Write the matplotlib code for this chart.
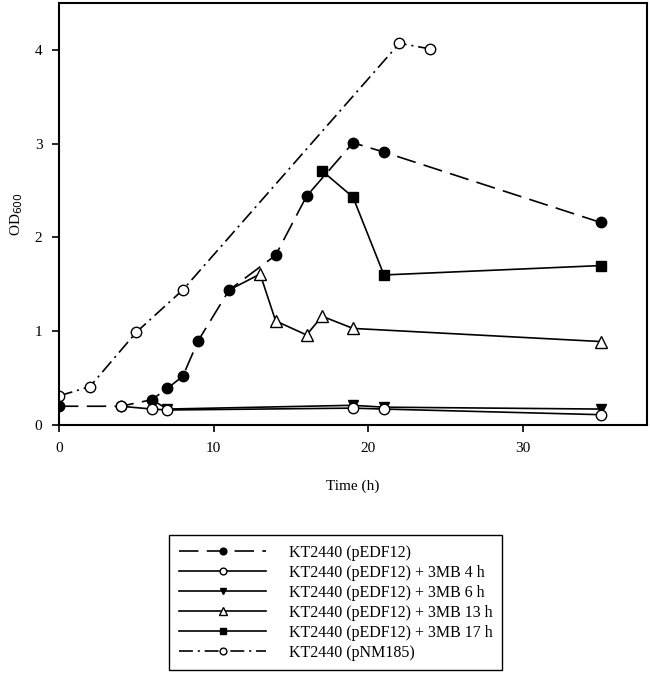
import matplotlib
matplotlib.use("Agg")
import matplotlib.pyplot as plt

plt.rcParams['font.family'] = ['Liberation Serif', 'DejaVu Serif']
plt.rcParams['lines.scale_dashes'] = False

# KT2440 (pEDF12)
t_pedf = [0, 4, 6, 7, 8, 9, 11, 14, 16, 19, 21, 35]
od_pedf = [0.20, 0.20, 0.27, 0.39, 0.52, 0.90, 1.44, 1.81, 2.44, 3.01, 2.91, 2.16]

# + 3MB 4 h
t_4h = [4, 6, 7, 19, 21, 35]
od_4h = [0.20, 0.17, 0.16, 0.18, 0.17, 0.11]

# + 3MB 6 h
t_6h = [6, 7, 19, 21, 35]
od_6h = [0.27, 0.17, 0.21, 0.19, 0.17]

# + 3MB 13 h
t_13h = [11, 13, 14, 16, 17, 19, 35]
od_13h = [1.44, 1.61, 1.11, 0.96, 1.16, 1.03, 0.89]

# + 3MB 17 h
t_17h = [17, 19, 21, 35]
od_17h = [2.71, 2.43, 1.60, 1.70]

# KT2440 (pNM185)
t_pnm = [0, 2, 5, 8, 22, 24]
od_pnm = [0.31, 0.41, 0.99, 1.44, 4.07, 4.01]

labels = ['KT2440 (pEDF12)',
          'KT2440 (pEDF12) + 3MB 4 h',
          'KT2440 (pEDF12) + 3MB 6 h',
          'KT2440 (pEDF12) + 3MB 13 h',
          'KT2440 (pEDF12) + 3MB 17 h',
          'KT2440 (pNM185)']

fig = plt.figure(figsize=(6.5, 6.76), dpi=100)
ax = fig.add_axes([59/650, 1 - 425/676, (647 - 59)/650, (425 - 3)/676])

lw = 1.2
ms = 7.5
h_pnm, = ax.plot(t_pnm, od_pnm, color='black', lw=lw, dashes=(10, 3.5, 1.5, 3.5),
                 marker='o', ms=ms, mfc='white', mec='black', zorder=2)
h_pedf, = ax.plot(t_pedf, od_pedf, color='black', lw=lw, dashes=(14, 6),
                  marker='o', ms=ms, mfc='black', mec='black', zorder=3)
h_4h, = ax.plot(t_4h, od_4h, color='black', lw=lw, marker='o', ms=ms,
                mfc='white', mec='black', zorder=4)
h_6h, = ax.plot(t_6h, od_6h, color='black', lw=lw, marker='v', ms=ms,
                mfc='black', mec='black', markevery=list(range(1, len(t_6h))), zorder=3)
h_13h, = ax.plot(t_13h, od_13h, color='black', lw=lw, marker='^', ms=ms + 1,
                 mfc='white', mec='black', markevery=list(range(1, len(t_13h))), zorder=2)
h_17h, = ax.plot(t_17h, od_17h, color='black', lw=lw, marker='s', ms=ms,
                 mfc='black', mec='black', zorder=2)

ax.set_xlim(0, 38)
ax.set_ylim(0, 4.5)
ax.set_xticks([0, 10, 20, 30])
ax.set_yticks([0, 1, 2, 3, 4])
ax.tick_params(direction='out', length=5, width=1.2, labelsize=11, pad=7)
for s in ax.spines.values():
    s.set_linewidth(1.5)
ax.set_xlabel('Time (h)', fontsize=11, labelpad=18)
ax.set_ylabel('OD$_{600}$', fontsize=11, labelpad=7)

handles = [h_pedf, h_4h, h_6h, h_13h, h_17h, h_pnm]
leg = fig.legend(handles, labels, loc='upper left',
                 bbox_to_anchor=(169/650, 1 - 535/676), borderaxespad=0,
                 fontsize=11.5, handlelength=5.5, handletextpad=1.4,
                 labelspacing=0.25, borderpad=0.6, fancybox=False,
                 edgecolor='black', framealpha=1, markerscale=0.65)
leg.get_frame().set_linewidth(1.0)

fig.savefig('out.png', dpi=100)
